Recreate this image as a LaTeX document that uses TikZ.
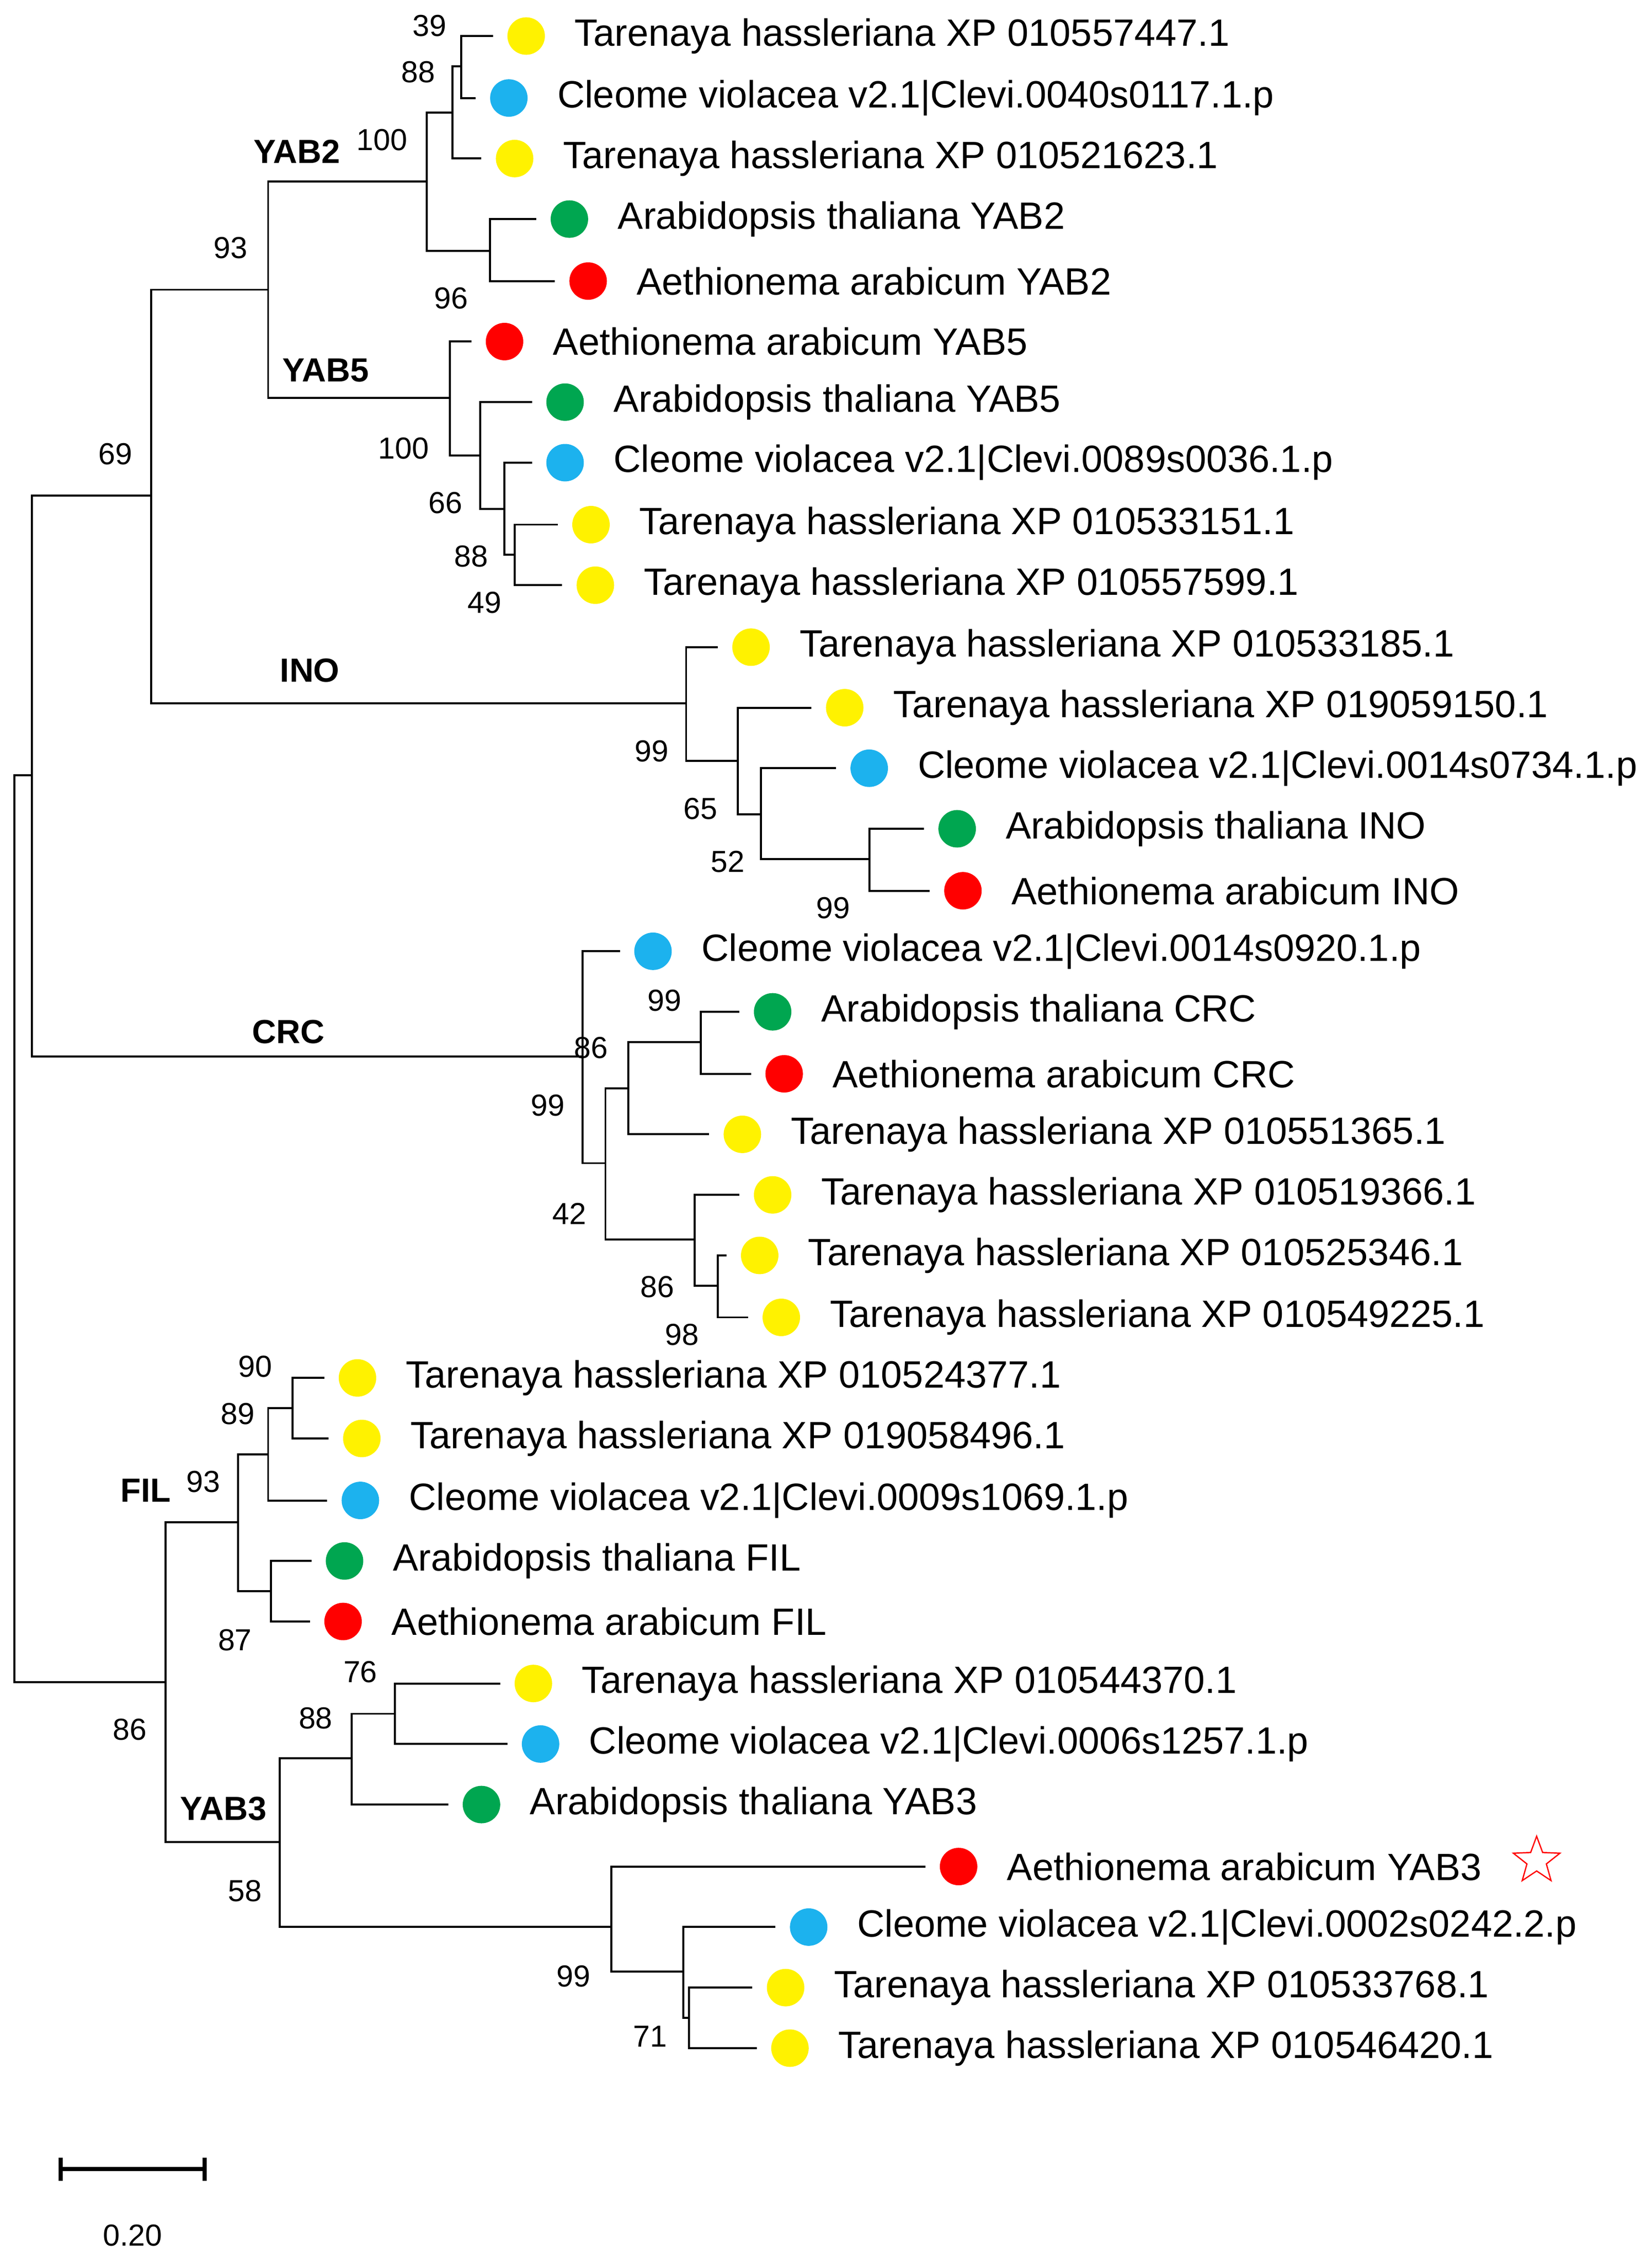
\documentclass[tikz,border=0pt]{standalone}
\usepackage{fontspec}
\setmainfont{Liberation Sans}
\usetikzlibrary{shapes.geometric}
\definecolor{cy}{HTML}{FFF200}
\definecolor{cb}{HTML}{1CB2EE}
\definecolor{cg}{HTML}{00A650}
\definecolor{cr}{HTML}{FF0000}
\begin{document}
\begin{tikzpicture}[x=0.1cm,y=-0.1cm,line width=4pt,
 dot/.style={circle,fill=#1,minimum size=2.6cm,inner sep=0},
 lab/.style={anchor=west,inner sep=0,font=\fontsize{75}{80}\selectfont},
 bs/.style={font=\fontsize{60}{64}\selectfont,inner sep=0},
 cl/.style={font=\bfseries\fontsize{66}{70}\selectfont,inner sep=0}]
\useasboundingbox (0,0) rectangle (1146,1568);
\foreach \n/\y/\x/\c/\t in {
l1/25/365/cy/Tarenaya hassleriana XP 010557447.1,
l2/68/353/cb/Cleome violacea v2.1|Clevi.0040s0117.1.p,
l3/110/357/cy/Tarenaya hassleriana XP 010521623.1,
l4/152/395/cg/Arabidopsis thaliana YAB2,
l5/195/408/cr/Aethionema arabicum YAB2,
l6/237/350/cr/Aethionema arabicum YAB5,
l7/279/392/cg/Arabidopsis thaliana YAB5,
l8/321/392/cb/Cleome violacea v2.1|Clevi.0089s0036.1.p,
l9/364/410/cy/Tarenaya hassleriana XP 010533151.1,
l10/406/413/cy/Tarenaya hassleriana XP 010557599.1,
l11/449/521/cy/Tarenaya hassleriana XP 010533185.1,
l12/491/586/cy/Tarenaya hassleriana XP 019059150.1,
l13/533/603/cb/Cleome violacea v2.1|Clevi.0014s0734.1.p,
l14/575/664/cg/Arabidopsis thaliana INO,
l15/618/668/cr/Aethionema arabicum INO,
l16/660/453/cb/Cleome violacea v2.1|Clevi.0014s0920.1.p,
l17/702/536/cg/Arabidopsis thaliana CRC,
l18/745/544/cr/Aethionema arabicum CRC,
l19/787/515/cy/Tarenaya hassleriana XP 010551365.1,
l20/829/536/cy/Tarenaya hassleriana XP 010519366.1,
l21/871/527/cy/Tarenaya hassleriana XP 010525346.1,
l22/914/542/cy/Tarenaya hassleriana XP 010549225.1,
l23/956/248/cy/Tarenaya hassleriana XP 010524377.1,
l24/998/251/cy/Tarenaya hassleriana XP 019058496.1,
l25/1041/250/cb/Cleome violacea v2.1|Clevi.0009s1069.1.p,
l26/1083/239/cg/Arabidopsis thaliana FIL,
l27/1125/238/cr/Aethionema arabicum FIL,
l28/1168/370/cy/Tarenaya hassleriana XP 010544370.1,
l29/1210/375/cb/Cleome violacea v2.1|Clevi.0006s1257.1.p,
l30/1252/334/cg/Arabidopsis thaliana YAB3,
l31/1295/665/cr/Aethionema arabicum YAB3,
l32/1337/561/cb/Cleome violacea v2.1|Clevi.0002s0242.2.p,
l33/1379/545/cy/Tarenaya hassleriana XP 010533768.1,
l34/1421/548/cy/Tarenaya hassleriana XP 010546420.1}{
 \node[dot=\c] (\n) at (\x,\y) {};
 \node[lab] (t\n) at (\x+33,\y) {\t};
 \coordinate (\n t) at (\x-23,\y);
}
\node[star,star points=5,star point ratio=2.4,draw=cr,line width=2.5pt,minimum size=3.4cm,inner sep=0] (st) at (1066,1291) {};
\coordinate (n1) at (320,46);
\coordinate (n2) at (314,78);
\coordinate (n4) at (340,174);
\coordinate (n3) at (296,126);
\coordinate (n5) at (357,385);
\coordinate (n6) at (350,353);
\coordinate (n7) at (333,316);
\coordinate (n8) at (312,276);
\coordinate (n9) at (186,201);
\coordinate (n10) at (603,596);
\coordinate (n11) at (528,565);
\coordinate (n12) at (512,528);
\coordinate (n13) at (476,488);
\coordinate (n14) at (105,344);
\coordinate (n15) at (486,723);
\coordinate (n16) at (436,755);
\coordinate (n17) at (498,892);
\coordinate (n18) at (482,860);
\coordinate (n19) at (420,807);
\coordinate (n20) at (404,733);
\coordinate (n21) at (22,538);
\coordinate (n22) at (203,977);
\coordinate (n23) at (186,1009);
\coordinate (n24) at (188,1104);
\coordinate (n25) at (165,1056);
\coordinate (n26) at (274,1189);
\coordinate (n27) at (244,1220);
\coordinate (n28) at (478,1400);
\coordinate (n29) at (474,1368);
\coordinate (n30) at (424,1337);
\coordinate (n31) at (194,1278);
\coordinate (n32) at (115,1167);
\coordinate (n0) at (10,852);
\foreach \p/\c in {n1/l1t,n1/l2t,n2/n1,n2/l3t,n4/l4t,n4/l5t,n3/n2,n3/n4,
 n5/l9t,n5/l10t,n6/l8t,n6/n5,n7/l7t,n7/n6,n8/l6t,n8/n7,n9/n3,n9/n8,
 n10/l14t,n10/l15t,n11/l13t,n11/n10,n12/l12t,n12/n11,n13/l11t,n13/n12,
 n14/n9,n14/n13,
 n15/l17t,n15/l18t,n16/n15,n16/l19t,n17/l21t,n17/l22t,n18/l20t,n18/n17,
 n19/n16,n19/n18,n20/l16t,n20/n19,n21/n14,n21/n20,
 n22/l23t,n22/l24t,n23/n22,n23/l25t,n24/l26t,n24/l27t,n25/n23,n25/n24,
 n26/l28t,n26/l29t,n27/n26,n27/l30t,n28/l33t,n28/l34t,n29/l32t,n29/n28,
 n30/l31t,n30/n29,n31/n27,n31/n30,n32/n25,n32/n31,n0/n21,n0/n32}
 {\draw (\p) |- (\c);}
\foreach \x/\y/\t in {298/18/39,290/50/88,265/97/100,313/207/96,280/311/100,
 309/349/66,327/386/88,336/418/49,160/172/93,80/315/69,452/521/99,486/561/65,
 505/598/52,578/630/99,461/694/99,410/727/86,380/767/99,395/842/42,456/893/86,
 473/926/98,177/948/90,165/981/89,141/1028/93,163/1138/87,250/1160/76,
 219/1192/88,90/1200/86,170/1312/58,398/1371/99,451/1413/71}
 {\node[bs] at (\x,\y) {\t};}
\foreach \x/\y/\t in {206/105/YAB2,226/257/YAB5,215/465/INO,200/716/CRC,
 101/1034/FIL,155/1255/YAB3}
 {\node[cl] at (\x,\y) {\t};}
\coordinate (s1) at (42,1505);
\coordinate (s2) at (142,1505);
\draw[line width=8pt] (s1) -- (s2);
\draw[line width=8pt] ([yshift=0.8cm]s1) -- ([yshift=-0.8cm]s1);
\draw[line width=8pt] ([yshift=0.8cm]s2) -- ([yshift=-0.8cm]s2);
\node[bs] at (92,1551) {0.20};
\end{tikzpicture}
\end{document}
